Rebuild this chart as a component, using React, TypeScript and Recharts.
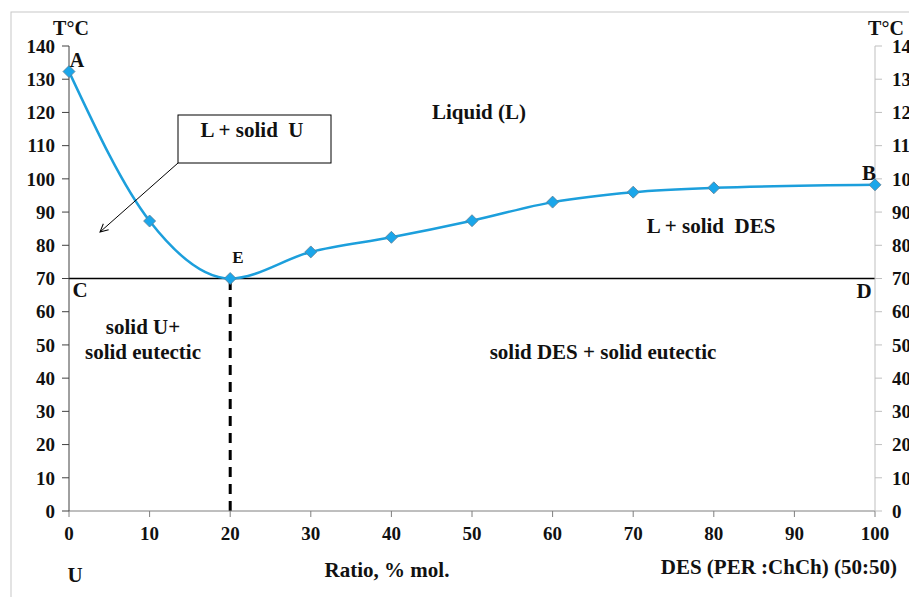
import {
  LineChart,
  Line,
  XAxis,
  YAxis,
  ReferenceLine,
} from 'recharts';

const ratio = [0, 10, 20, 30, 40, 50, 60, 70, 80, 100];
const temperature = [132.3, 87.3, 70, 78, 82.4, 87.4, 93, 96, 97.3, 98.2];
const xTicks = [0, 10, 20, 30, 40, 50, 60, 70, 80, 90, 100];
const yTicks = [0, 10, 20, 30, 40, 50, 60, 70, 80, 90, 100, 110, 120, 130, 140];
const eutecticT = 70;
const eutecticX = 20;

const data = ratio.map((r, i) => ({ ratio: r, t: temperature[i] }));

const FONT = '"Liberation Serif", "Times New Roman", serif';
const BLUE = '#1c9fdc';

const Diamond = (props: any) => {
  const { cx, cy } = props;
  if (cx == null || cy == null) return null;
  const r = 6;
  return (
    <path
      key={`d-${cx}`}
      d={`M${cx},${cy - r} L${cx + r},${cy} L${cx},${cy + r} L${cx - r},${cy} Z`}
      fill="#1aa6ea"
      stroke="#5b7f95"
      strokeWidth={0.8}
    />
  );
};

const tickStyle = { fontFamily: FONT, fontWeight: 700, fontSize: 19, fill: '#111' };

export default function App() {
  const txt = { fontFamily: FONT, fontWeight: 700, fill: '#111', style: { whiteSpace: 'pre' as const } };
  return (
    <div style={{ position: 'relative', width: 917, height: 597, margin: '-8px 0 0 -8px', background: '#fff' }}>
      <LineChart
        width={917}
        height={597}
        data={data}
        margin={{ top: 46, right: 2, left: 19, bottom: 56 }}
      >
        <XAxis
          dataKey="ratio"
          type="number"
          domain={[0, 100]}
          ticks={xTicks}
          tickSize={6}
          tickMargin={10}
          tick={tickStyle}
          stroke="#7f7f7f"
          height={30}
        />
        <YAxis
          yAxisId="left"
          orientation="left"
          domain={[0, 140]}
          ticks={yTicks}
          width={50}
          tickSize={7}
          tickMargin={7}
          tick={tickStyle}
          stroke="#404040"
        />
        <YAxis
          yAxisId="right"
          orientation="right"
          domain={[0, 140]}
          ticks={yTicks}
          allowDataOverflow
          width={40}
          tickSize={7}
          tickMargin={10}
          tick={tickStyle}
          stroke="#bfbfbf"
        />
        <ReferenceLine yAxisId="left" y={eutecticT} stroke="#000" strokeWidth={1.5} />
        <ReferenceLine
          yAxisId="left"
          segment={[
            { x: eutecticX, y: 0 },
            { x: eutecticX, y: eutecticT },
          ]}
          stroke="#000"
          strokeWidth={3}
          strokeDasharray="10 7"
        />
        <Line
          yAxisId="right"
          type="monotone"
          dataKey="t"
          stroke="none"
          dot={false}
          activeDot={false}
          legendType="none"
          isAnimationActive={false}
        />
        <Line
          yAxisId="left"
          type="monotone"
          dataKey="t"
          stroke={BLUE}
          strokeWidth={2.5}
          dot={<Diamond />}
          activeDot={false}
          isAnimationActive={false}
        />
      </LineChart>
      <svg
        width={917}
        height={597}
        style={{ position: 'absolute', left: 0, top: 0, pointerEvents: 'none' }}
      >
        <rect x={11} y={12} width={920} height={600} fill="none" stroke="#c8c8c8" strokeWidth={1} />
        <defs>
          <marker id="arr" markerWidth="10" markerHeight="10" refX="9" refY="5" orient="auto">
            <path d="M1,1 L9,5 L1,9" fill="none" stroke="#000" strokeWidth={1} />
          </marker>
        </defs>
        <text x={71} y={35} textAnchor="middle" fontSize={20} {...txt}>T°C</text>
        <text x={886} y={35} textAnchor="middle" fontSize={20} {...txt}>T°C</text>
        <text x={77} y={67} textAnchor="middle" fontSize={20} {...txt}>A</text>
        <text x={238} y={263} textAnchor="middle" fontSize={17} {...txt}>E</text>
        <text x={80} y={297} textAnchor="middle" fontSize={21} {...txt}>C</text>
        <text x={864} y={298} textAnchor="middle" fontSize={21} {...txt}>D</text>
        <text x={869} y={180} textAnchor="middle" fontSize={21} {...txt}>B</text>
        <text x={479} y={119} textAnchor="middle" fontSize={21} {...txt}>Liquid (L)</text>
        <text x={711} y={233} textAnchor="middle" fontSize={21} {...txt}>L + solid  DES</text>
        <text x={143} y={334} textAnchor="middle" fontSize={21} {...txt}>solid U+</text>
        <text x={143} y={359} textAnchor="middle" fontSize={21} {...txt}>solid eutectic</text>
        <text x={603} y={359} textAnchor="middle" fontSize={21} {...txt}>solid DES + solid eutectic</text>
        <text x={75} y={582} textAnchor="middle" fontSize={21} {...txt}>U</text>
        <text x={387} y={577} textAnchor="middle" fontSize={21} {...txt}>Ratio, % mol.</text>
        <text x={897} y={574} textAnchor="end" fontSize={21} {...txt}>DES (PER :ChCh) (50:50)</text>
        <rect x={178} y={115} width={153} height={48} fill="#fff" stroke="#000" strokeWidth={1} />
        <text x={252} y={137} textAnchor="middle" fontSize={21} {...txt}>L + solid  U</text>
        <line x1={178} y1={163} x2={100} y2={232} stroke="#000" strokeWidth={1} markerEnd="url(#arr)" />
      </svg>
    </div>
  );
}
